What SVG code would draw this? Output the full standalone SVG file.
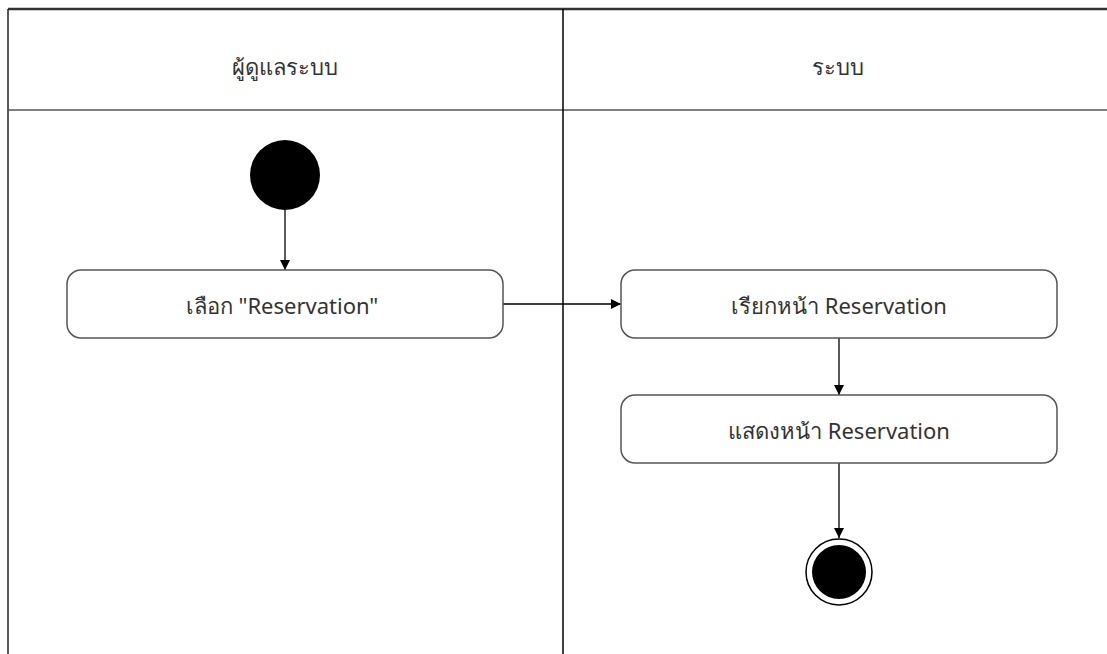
<svg xmlns="http://www.w3.org/2000/svg" width="1107" height="654" viewBox="0 0 1107 654">
<style>
.lane{fill:none;stroke:#222;stroke-width:1.5}
.node rect{fill:#fff;stroke:#555;stroke-width:1.5}
text{font-family:"Noto Sans","DejaVu Sans",sans-serif;font-size:22px;fill:#333;text-anchor:middle;dominant-baseline:central}
.conn{stroke:#000;stroke-width:1.3;fill:none;marker-end:url(#arr)}
</style>
<defs>
<marker id="arr" viewBox="0 0 10 10" refX="10" refY="5" markerWidth="10" markerHeight="10" markerUnits="userSpaceOnUse" orient="auto">
<path d="M0,0 L10,5 L0,10 z" fill="#000"/>
</marker>
</defs>
<rect width="1107" height="654" fill="#fff"/>
<g id="swimlanes">
<line x1="8" y1="9" x2="1107" y2="9" stroke="#333" stroke-width="2.5"/>
<line x1="8" y1="9" x2="8" y2="654" class="lane"/>
<line x1="8" y1="110" x2="1107" y2="110" stroke="#555" stroke-width="1.5"/>
<line x1="563" y1="9" x2="563" y2="654" stroke="#000" stroke-width="1.5"/>
<text x="285" y="66">ผู้ดูแลระบบ</text>
<text x="838" y="66">ระบบ</text>
</g>
<g id="connectors">
<path class="conn" d="M285,210 L285,270"/>
<path class="conn" d="M503,304 L621,304"/>
<path class="conn" d="M839,338 L839,395"/>
<path class="conn" d="M839,463 L839,538"/>
</g>
<g id="start">
<circle cx="285" cy="175" r="35" fill="#000"/>
</g>
<g id="select" class="node">
<rect x="67" y="270" width="436" height="68" rx="14"/>
<text x="282" y="305">เลือก "Reservation"</text>
</g>
<g id="call" class="node">
<rect x="621" y="270" width="436" height="68" rx="14"/>
<text x="839" y="305">เรียกหน้า Reservation</text>
</g>
<g id="show" class="node">
<rect x="621" y="395" width="436" height="68" rx="14"/>
<text x="839" y="430">แสดงหน้า Reservation</text>
</g>
<g id="end">
<circle cx="839" cy="572" r="33" fill="#fff" stroke="#000" stroke-width="1.5"/>
<circle cx="839" cy="572" r="27" fill="#000"/>
</g>
</svg>
